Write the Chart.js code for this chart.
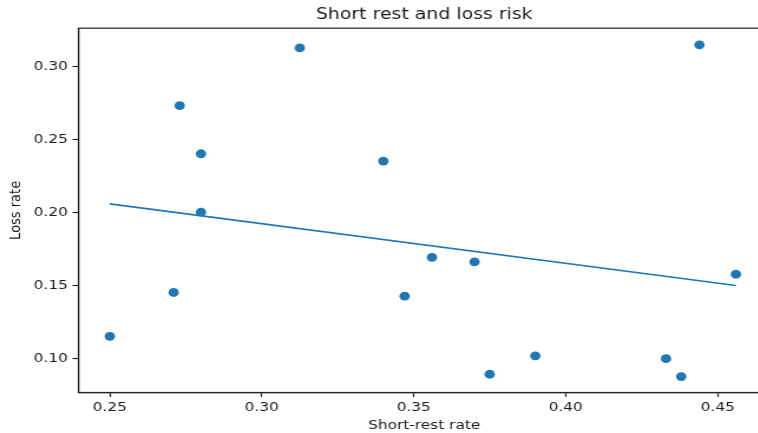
<!DOCTYPE html>
<html>
<head>
<meta charset="utf-8">
<script src="https://cdn.jsdelivr.net/npm/chart.js@4"></script>
<style>
body{margin:0;background:#fff;}
#wrap{width:758px;height:433px;overflow:hidden;}
#inner{width:660px;height:433px;transform:scaleX(1.18);transform-origin:0 0;}
</style>
</head>
<body>
<div id="wrap"><div id="inner"><canvas id="myChart" width="660" height="433"></canvas></div></div>
<script>
// values
const restRate = [0.25, 0.271, 0.273, 0.28, 0.28, 0.3125, 0.34, 0.347, 0.356, 0.370, 0.375, 0.39, 0.433, 0.438, 0.444, 0.456];
const lossRate = [0.115, 0.145, 0.273, 0.24, 0.20, 0.3125, 0.235, 0.1425, 0.169, 0.166, 0.089, 0.1016, 0.0997, 0.0874, 0.3146, 0.1575];
const fitX = [0.25, 0.456];
const fitY = [0.2057, 0.1498];
const xTicks = [0.25, 0.30, 0.35, 0.40, 0.45];
const yTicks = [0.10, 0.15, 0.20, 0.25, 0.30];

var pts = [];
for (var i = 0; i < restRate.length; i++) {
    pts.push({x: restRate[i], y: lossRate[i]});
}
var fit = [];
for (var j = 0; j < fitX.length; j++) {
    fit.push({x: fitX[j], y: fitY[j]});
}

var txt = '#1a1a1a';
var fontFam = "'DejaVu Sans', sans-serif";

//draws the full axes box (top/right spines)
var boxPlugin = {
    id: 'box',
    afterDraw: function(chart){
        var a = chart.chartArea;
        var c = chart.ctx;
        c.save();
        c.strokeStyle = '#222';
        c.lineWidth = 1.2;
        c.strokeRect(a.left, a.top, a.right - a.left, a.bottom - a.top);
        c.restore();
    }
};

var ctx = document.getElementById('myChart').getContext('2d');
var myChart = new Chart(ctx, {
    type: 'scatter',
    data: {
        datasets: [{
            data: pts,
            backgroundColor: '#1f77b4',
            borderWidth: 0,
            pointRadius: 4.4,
            pointHoverRadius: 4.4
        }, {
            data: fit,
            showLine: true,
            borderColor: '#1f77b4',
            borderWidth: 1.7,
            pointRadius: 0,
            fill: false
        }]
    },
    options: {
        responsive: false,
        animation: false,
        layout: {padding: {left: 0, right: 7.5, top: 0, bottom: 0}},
        plugins: {
            legend: {display: false},
            tooltip: {enabled: false},
            title: {
                display: true,
                text: 'Short rest and loss risk',
                fullSize: false,
                color: txt,
                font: {family: fontFam, size: 16, weight: 'normal'},
                padding: {top: 5, bottom: 4}
            }
        },
        scales: {
            x: {
                type: 'linear',
                min: 0.2397,
                max: 0.4672,
                afterBuildTicks: function(s){ s.ticks = xTicks.map(v => ({value: v})); },
                afterFit: function(s){ s.height = 40.5; },
                grid: {drawOnChartArea: false, tickLength: 4.5, tickColor: '#222', tickWidth: 1.2},
                border: {color: '#222', width: 1.2},
                ticks: {
                    color: txt,
                    padding: 3,
                    maxRotation: 0,
                    font: {family: fontFam, size: 13},
                    callback: function(v){ return v.toFixed(2); }
                },
                title: {
                    display: true,
                    text: 'Short-rest rate',
                    color: txt,
                    padding: 0,
                    font: {family: fontFam, size: 13}
                }
            },
            y: {
                type: 'linear',
                min: 0.0765,
                max: 0.326,
                afterBuildTicks: function(s){ s.ticks = yTicks.map(v => ({value: v})); },
                afterFit: function(s){ s.width = 66.5; },
                grid: {drawOnChartArea: false, tickLength: 5, tickColor: '#222', tickWidth: 1.2},
                border: {color: '#222', width: 1.2},
                ticks: {
                    color: txt,
                    padding: 4,
                    font: {family: fontFam, size: 13},
                    callback: function(v){ return v.toFixed(2); }
                },
                title: {
                    display: true,
                    text: 'Loss rate',
                    color: txt,
                    padding: {top: 6, bottom: 0},
                    font: {family: fontFam, size: 13}
                }
            }
        }
    },
    plugins: [boxPlugin]
});
</script>
</body>
</html>
